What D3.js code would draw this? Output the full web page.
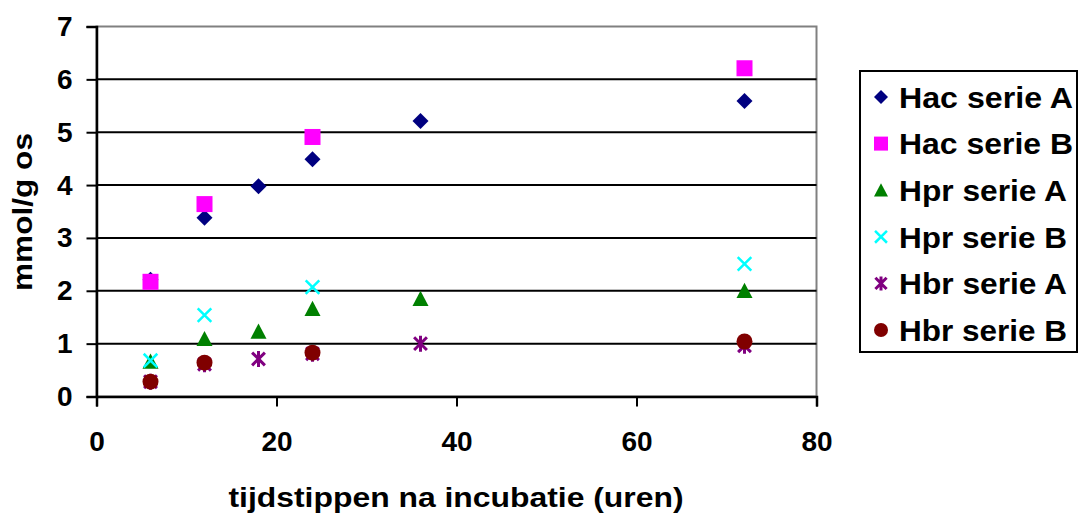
<!DOCTYPE html>
<html>
<head>
    <title>mmol/g os per tijdstip</title>
    <script src="https://d3js.org/d3.v7.min.js"></script>
    <style>
        body { margin: 0; background: #fff; }
        svg { display: block; }
        text { font-family: "Liberation Sans", Arial, sans-serif; font-weight: bold; fill: #000; }
        .tick-label { font-size: 28px; }
        .axis-title { font-size: 27px; }
        .legend text { font-size: 30px; }
        .grid line { stroke: #000; stroke-width: 2; }
    </style>
</head>
<body>
    <svg width="1078" height="516"></svg>
    <script>
        // data
        var hacA_x = [6, 12, 18, 24, 36, 72];
        var hacA_y = [2.21, 3.38, 3.98, 4.49, 5.21, 5.59];
        var hacB_x = [6, 12, 24, 72];
        var hacB_y = [2.17, 3.64, 4.91, 6.21];
        var hprA_x = [6, 12, 18, 24, 36, 72];
        var hprA_y = [0.66, 1.09, 1.23, 1.66, 1.85, 2.0];
        var hprB_x = [6, 12, 24, 72];
        var hprB_y = [0.68, 1.54, 2.07, 2.51];
        var hbrA_x = [6, 12, 18, 24, 36, 72];
        var hbrA_y = [0.28, 0.61, 0.71, 0.81, 1.0, 0.96];
        var hbrB_x = [6, 12, 24, 72];
        var hbrB_y = [0.28, 0.64, 0.83, 1.04];

        var seriesNames = ["Hac serie A", "Hac serie B", "Hpr serie A", "Hpr serie B", "Hbr serie A", "Hbr serie B"];
        var seriesColors = ["#000080", "#ff00ff", "#008000", "#00ffff", "#800080", "#800000"];
        var seriesShapes = ["diamond", "square", "triangle", "x", "star", "circle"];

        var xTicks = [0, 20, 40, 60, 80];
        var yTicks = [0, 1, 2, 3, 4, 5, 6, 7];

        var series = [
            [hacA_x, hacA_y], [hacB_x, hacB_y], [hprA_x, hprA_y],
            [hprB_x, hprB_y], [hbrA_x, hbrA_y], [hbrB_x, hbrB_y]
        ].map(function(s, i) {
            return {
                name: seriesNames[i], color: seriesColors[i], shape: seriesShapes[i],
                points: s[0].map(function(x, j) { return {x: x, y: s[1][j]}; })
            };
        });

        var svg = d3.select("svg");
        var x = d3.scaleLinear().domain([0, 80]).range([96.5, 816.5]);
        var y = d3.scaleLinear().domain([0, 7]).range([396.5, 26.5]);

        // marker drawing, r = half size
        function marker(sel, shape, color, r) {
            var p = d3.path();
            if (shape === "diamond") {
                p.moveTo(0, -r); p.lineTo(r, 0); p.lineTo(0, r); p.lineTo(-r, 0); p.closePath();
                sel.append("path").attr("d", p.toString()).attr("fill", color);
            } else if (shape === "square") {
                sel.append("rect").attr("x", -r).attr("y", -r).attr("width", 2 * r).attr("height", 2 * r).attr("fill", color);
            } else if (shape === "triangle") {
                p.moveTo(0, -r); p.lineTo(r, r * 0.9); p.lineTo(-r, r * 0.9); p.closePath();
                sel.append("path").attr("d", p.toString()).attr("fill", color);
            } else if (shape === "x") {
                var a = r * 0.85;
                p.moveTo(-a, -a); p.lineTo(a, a); p.moveTo(-a, a); p.lineTo(a, -a);
                sel.append("path").attr("d", p.toString()).attr("stroke", color).attr("stroke-width", 2.5).attr("fill", "none");
            } else if (shape === "star") {
                var b = r * 0.8;
                p.moveTo(-b, -b); p.lineTo(b, b); p.moveTo(-b, b); p.lineTo(b, -b);
                p.moveTo(0, -r); p.lineTo(0, r);
                sel.append("path").attr("d", p.toString()).attr("stroke", color).attr("stroke-width", 3).attr("fill", "none");
            } else {
                sel.append("circle").attr("r", r).attr("fill", color);
            }
        }

        // plot border (gray top/right)
        svg.append("rect")
            .attr("x", x(0)).attr("y", y(7))
            .attr("width", x(80) - x(0)).attr("height", y(0) - y(7))
            .attr("fill", "none").attr("stroke", "#808080").attr("stroke-width", 2);

        // horizontal gridlines
        svg.append("g").attr("class", "grid")
            .selectAll("line")
            .data(yTicks.filter(function(d) { return d > 0 && d < 7; }))
            .enter().append("line")
            .attr("x1", x(0)).attr("x2", x(80))
            .attr("y1", function(d) { return y(d); }).attr("y2", function(d) { return y(d); });

        // y axis
        var yAxis = svg.append("g")
            .attr("transform", "translate(" + x(0) + ",0)")
            .call(d3.axisLeft(y).tickValues(yTicks).tickSize(10).tickPadding(14).tickFormat(d3.format("d")));
        yAxis.select(".domain").attr("stroke", "#000").attr("stroke-width", 2.5);
        yAxis.selectAll(".tick line").attr("stroke", "#000").attr("stroke-width", 2);
        yAxis.selectAll(".tick text").attr("class", "tick-label").attr("font-size", null).attr("font-family", null);

        // x axis
        var xAxis = svg.append("g")
            .attr("transform", "translate(0," + y(0) + ")")
            .call(d3.axisBottom(x).tickValues(xTicks).tickSize(10).tickPadding(25).tickFormat(d3.format("d")));
        xAxis.select(".domain").attr("stroke", "#000").attr("stroke-width", 2.5);
        xAxis.selectAll(".tick line").attr("stroke", "#000").attr("stroke-width", 2);
        xAxis.selectAll(".tick text").attr("class", "tick-label").attr("font-size", null).attr("font-family", null);

        // points
        series.forEach(function(s) {
            svg.append("g")
                .selectAll("g")
                .data(s.points)
                .enter().append("g")
                .attr("transform", function(d) { return "translate(" + x(d.x) + "," + y(d.y) + ")"; })
                .each(function() { marker(d3.select(this), s.shape, s.color, 8); });
        });

        // axis titles
        svg.append("text")
            .attr("class", "axis-title")
            .attr("x", 456).attr("y", 507)
            .attr("text-anchor", "middle")
            .attr("textLength", 455).attr("lengthAdjust", "spacingAndGlyphs")
            .text("tijdstippen na incubatie (uren)");

        svg.append("text")
            .attr("class", "axis-title")
            .attr("transform", "translate(32,212) rotate(-90)")
            .attr("text-anchor", "middle")
            .attr("textLength", 158).attr("lengthAdjust", "spacingAndGlyphs")
            .text("mmol/g os");

        // legend
        var legend = svg.append("g").attr("class", "legend");
        legend.append("rect")
            .attr("x", 860).attr("y", 71).attr("width", 217).attr("height", 281)
            .attr("fill", "#fff").attr("stroke", "#000").attr("stroke-width", 2);

        var items = legend.selectAll("g.item")
            .data(series)
            .enter().append("g")
            .attr("class", "item")
            .attr("transform", function(d, i) { return "translate(881," + (97 + i * 46.6) + ")"; });

        items.each(function(d) { marker(d3.select(this), d.shape, d.color, 7); });

        items.append("text")
            .attr("x", 18).attr("dy", "0.36em")
            .attr("textLength", function(d) { return d.name.indexOf("Hac") === 0 ? 174 : 168; })
            .attr("lengthAdjust", "spacingAndGlyphs")
            .text(function(d) { return d.name; });
    </script>
</body>
</html>
